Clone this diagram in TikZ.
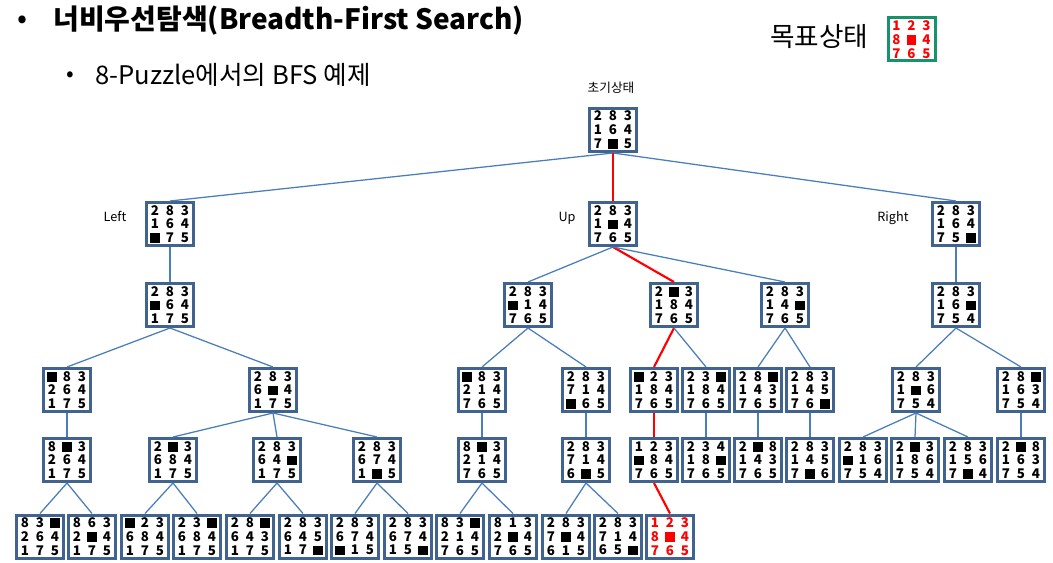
\documentclass[tikz,border=0pt]{standalone}
\usepackage{fontspec}
\setmainfont{Noto Sans CJK KR}
\definecolor{boxc}{HTML}{41638F}
\definecolor{linec}{HTML}{4A7EBB}
\definecolor{goalg}{HTML}{16936B}
\definecolor{redc}{HTML}{FF0000}
\newcommand\pzcell[1]{\makebox[11.25pt]{\if0#1\rule[-0.3pt]{7.2pt}{7.2pt}\else#1\fi}}
\newcommand\pzl[9]{\vbox{\baselineskip=10.3pt\hbox{\pzcell{#1}\pzcell{#2}\pzcell{#3}}\hbox{\pzcell{#4}\pzcell{#5}\pzcell{#6}}\hbox{\pzcell{#7}\pzcell{#8}\pzcell{#9}}}}
\tikzset{
  pz/.style={draw=boxc, line width=2.25pt, fill=white, minimum width=35.25pt, minimum height=32.25pt, inner sep=0pt, font=\bfseries\fontsize{10}{11}\selectfont},
  pzred/.style={pz, text=redc},
  pzgoal/.style={pz, draw=goalg, text=redc},
  con/.style={draw=linec, line width=0.95pt},
  vcon/.style={draw=linec, line width=1.5pt},
  rcon/.style={draw=redc, line width=1.6pt},
  lbl/.style={font=\fontsize{9.5}{11}\selectfont, inner sep=0pt}
}
\begin{document}
\begin{tikzpicture}[x=0.75pt,y=-0.75pt]
\useasboundingbox (0,0) rectangle (1053,563);
% titles
\node[inner sep=0pt, font=\fontsize{22}{24}\selectfont] (bl1) at (22,22) {•};
\node[anchor=west, inner sep=0pt, font=\bfseries\fontsize{21}{24}\selectfont] (t1) at (53,21) {너비우선탐색(Breadth-First Search)};
\node[inner sep=0pt, font=\fontsize{17}{20}\selectfont] (bl2) at (70,77) {•};
\node[anchor=west, inner sep=0pt, font=\fontsize{19.2}{22}\selectfont] (t2) at (95,75) {8-Puzzle에서의 BFS 예제};
\node[anchor=west, inner sep=0pt, font=\fontsize{20}{23}\selectfont] (gt) at (770,37) {목표상태};
\node[pzgoal] (goal) at (911.5,39.5) {\pzl 123804765};
\node[lbl] (init) at (611,88) {초기상태};
% tree
\node[pz] (r) at (613,130) {\pzl 283164705};
\node[pz] (a) at (170,224) {\pzl 283164075};
\node[pz] (b) at (613,224) {\pzl 283104765};
\node[pz] (c) at (956,224) {\pzl 283164750};
\node[lbl] (la) at (115,216) {Left};
\node[lbl] (lb) at (567,218) {Up};
\node[lbl] (lc) at (893,218) {Right};
\node[pz] (a1) at (170,305) {\pzl 283064175};
\node[pz] (b1n) at (528,305) {\pzl 283014765};
\node[pz] (b2n) at (674,305) {\pzl 203184765};
\node[pz] (b3n) at (785,305) {\pzl 283140765};
\node[pz] (c1) at (956,305) {\pzl 283160754};
% level 3
\node[pz] (a11) at (67,390) {\pzl 083264175};
\node[pz] (a12) at (273,390) {\pzl 283604175};
\node[pz] (b11) at (482,390) {\pzl 083214765};
\node[pz] (b12) at (586,390) {\pzl 283714065};
\node[pz] (b21) at (654,390) {\pzl 023184765};
\node[pz] (b22) at (706,390) {\pzl 230184765};
\node[pz] (b31) at (758,390) {\pzl 280143765};
\node[pz] (b32) at (810,390) {\pzl 283145760};
\node[pz] (c11) at (916,390) {\pzl 283106754};
\node[pz] (c12) at (1021,390) {\pzl 280163754};
% level 4
\node[pz] (a111) at (67,460) {\pzl 803264175};
\node[pz] (a121) at (173,460) {\pzl 203684175};
\node[pz] (a122) at (277,460) {\pzl 283640175};
\node[pz] (a123) at (377,460) {\pzl 283674105};
\node[pz] (b111) at (482,460) {\pzl 803214765};
\node[pz] (b121) at (586,460) {\pzl 283714605};
\node[pz] (b211) at (654,460) {\pzl 123084765};
\node[pz] (b221) at (706,460) {\pzl 234180765};
\node[pz] (b311) at (758,460) {\pzl 208143765};
\node[pz] (b321) at (810,460) {\pzl 283145706};
\node[pz] (c111) at (863,460) {\pzl 283016754};
\node[pz] (c112) at (915,460) {\pzl 203186754};
\node[pz] (c113) at (968,460) {\pzl 283156704};
\node[pz] (c121) at (1021,460) {\pzl 208163754};
% level 5
\node[pz] (a1111) at (40,536.5) {\pzl 830264175};
\node[pz] (a1112) at (92,536.5) {\pzl 863204175};
\node[pz] (a1211) at (145,536.5) {\pzl 023684175};
\node[pz] (a1212) at (197,536.5) {\pzl 230684175};
\node[pz] (a1221) at (250,536.5) {\pzl 280643175};
\node[pz] (a1222) at (303,536.5) {\pzl 283645170};
\node[pz] (a1231) at (355,536.5) {\pzl 283674015};
\node[pz] (a1232) at (408,536.5) {\pzl 283674150};
\node[pz] (b1111) at (460,536.5) {\pzl 830214765};
\node[pz] (b1112) at (513,536.5) {\pzl 813204765};
\node[pz] (b1211) at (566,536.5) {\pzl 283704615};
\node[pz] (b1212) at (618,536.5) {\pzl 283714650};
\node[pzred] (b2111) at (670,536.5) {\pzl 123804765};
% connectors
\path[con] (r.south) -- (a.north);
\path[con] (r.south) -- (c.north);
\path[rcon] (r.south) -- (b.north);
\path[vcon] (a.south) -- (a1.north);
\path[vcon] (c.south) -- (c1.north);
\path[con] (b.south) -- (b1n.north);
\path[rcon] (b.south) -- (b2n.north);
\path[con] (b.south) -- (b3n.north);
\path[con] (a1.south) -- (a11.north);
\path[con] (a1.south) -- (a12.north);
\path[con] (b1n.south) -- (b11.north);
\path[con] (b1n.south) -- (b12.north);
\path[rcon] (b2n.south) -- (b21.north);
\path[con] (b2n.south) -- (b22.north);
\path[con] (b3n.south) -- (b31.north);
\path[con] (b3n.south) -- (b32.north);
\path[con] (c1.south) -- (c11.north);
\path[con] (c1.south) -- (c12.north);
\path[con] (a11.south) -- (a111.north);
\path[con] (a12.south) -- (a121.north);
\path[con] (a12.south) -- (a122.north);
\path[con] (a12.south) -- (a123.north);
\path[vcon] (b11.south) -- (b111.north);
\path[con] (b12.south) -- (b121.north);
\path[rcon] (b21.south) -- (b211.north);
\path[vcon] (b22.south) -- (b221.north);
\path[con] (b31.south) -- (b311.north);
\path[con] (b32.south) -- (b321.north);
\path[con] (c11.south) -- (c111.north);
\path[con] (c11.south) -- (c112.north);
\path[con] (c11.south) -- (c113.north);
\path[con] (c12.south) -- (c121.north);
\path[con] (a111.south) -- (a1111.north);
\path[con] (a111.south) -- (a1112.north);
\path[con] (a121.south) -- (a1211.north);
\path[con] (a121.south) -- (a1212.north);
\path[con] (a122.south) -- (a1221.north);
\path[con] (a122.south) -- (a1222.north);
\path[con] (a123.south) -- (a1231.north);
\path[con] (a123.south) -- (a1232.north);
\path[con] (b111.south) -- (b1111.north);
\path[con] (b111.south) -- (b1112.north);
\path[con] (b121.south) -- (b1211.north);
\path[con] (b121.south) -- (b1212.north);
\path[rcon] (b211.south) -- (b2111.north);
\end{tikzpicture}
\end{document}
